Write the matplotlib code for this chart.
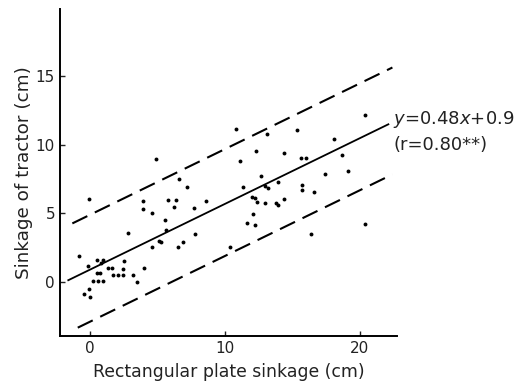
import matplotlib.pyplot as plt
import numpy as np

plt.rcParams['font.family'] = 'DejaVu Sans'
plt.rcParams['lines.scale_dashes'] = False

# measured points (plate sinkage, tractor sinkage), cm
plate = [-0.07, 3.95, 3.95, 4.6, 2.84, 5.1, 5.3, 4.6, -0.77, 0.5, 0.99, 2.54,
         -0.12, 0.81, 1.36, 1.6, 4.0, 2.47, 0.5, 0.74, 1.73, 2.1, 2.47, 3.2,
         0.25, 0.62, 0.99, 3.5, -0.07, -0.42, 0.0, 4.9, 5.56, 5.6, 5.8, 6.4,
         6.2, 6.6, 7.2, 7.7, 8.6, 6.5, 6.9, 7.8, 10.4, 10.8, 13.1, 15.3, 20.4,
         18.1, 12.3, 14.4, 11.1, 15.6, 16.0, 18.7, 17.4, 19.1, 12.7, 11.3, 13.0,
         13.2, 13.9, 15.7, 15.7, 16.6, 12.0, 12.2, 12.4, 13.0, 13.8, 13.95,
         14.4, 12.05, 11.65, 12.2, 16.4, 20.4]
tractor = [6.06, 5.93, 5.3, 5.06, 3.55, 3.0, 2.94, 2.58, 1.9, 1.6, 1.6, 1.53,
           1.17, 1.36, 1.0, 1.0, 1.0, 0.95, 0.68, 0.63, 0.51, 0.51, 0.51, 0.51,
           0.1, 0.1, 0.1, 0.02, -0.53, -0.88, -1.07, 8.96, 4.5, 3.8, 5.96, 5.96,
           5.5, 7.5, 6.9, 5.4, 5.9, 2.53, 2.94, 3.5, 2.58, 11.17, 10.8, 11.1, 12.2,
           10.4, 9.56, 9.44, 8.8, 9.07, 9.07, 9.3, 7.9, 8.1, 7.7, 6.96, 7.0,
           6.85, 7.3, 7.1, 6.7, 6.55, 6.2, 6.1, 5.86, 5.8, 5.74, 5.6,
           6.06, 4.94, 4.33, 4.16, 3.48, 4.2]

slope = 0.48
intercept = 0.9
upper_off = 4.0
lower_off = -3.8

fit_x = [-1.6, 22.1]
upper_x = [-1.3, 22.4]
lower_x = [-0.9, 22.4]

fig = plt.figure(figsize=(5.21, 3.86), dpi=100)
ax = fig.add_axes([0.115, 0.1295, 0.647, 0.8475])

ax.plot(plate, tractor, 'o', color='black', markersize=2.8, markeredgewidth=0)

fx = np.array(fit_x)
ax.plot(fx, slope * fx + intercept, color='black', lw=1.3)
ux = np.array(upper_x)
ax.plot(ux, slope * ux + intercept + upper_off, color='black', lw=1.5, dashes=(12, 6))
lx = np.array(lower_x)
ax.plot(lx, slope * lx + intercept + lower_off, color='black', lw=1.5, dashes=(12, 6))

ax.set_xlim(-2.22, 22.74)
ax.set_ylim(-3.94, 19.93)
ax.set_xticks([0, 10, 20])
ax.set_yticks([0, 5, 10, 15])
ax.tick_params(direction='in', length=3.5, width=1, labelsize=11, colors='#222222')
for s in ['top', 'right']:
    ax.spines[s].set_visible(False)
for s in ['left', 'bottom']:
    ax.spines[s].set_linewidth(1.4)

ax.set_xlabel('Rectangular plate sinkage (cm)', fontsize=12.4, color='#222222', labelpad=5)
ax.set_ylabel('Sinkage of tractor (cm)', fontsize=13.2, color='#222222', labelpad=2)

fig.text(0.755, 0.69, r'$y$=0.48$x$+0.9', fontsize=13, color='#222222', va='center')
fig.text(0.755, 0.625, '(r=0.80**)', fontsize=13, color='#222222', va='center')

fig.savefig('out.png', dpi=100)
